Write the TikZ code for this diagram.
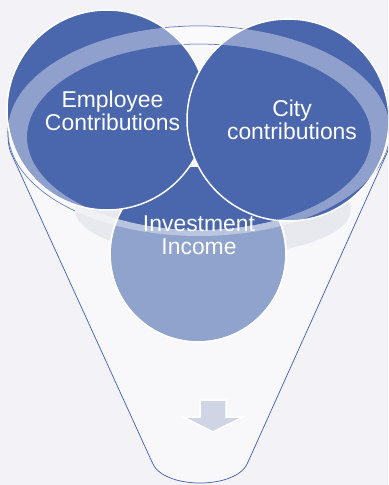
\documentclass[tikz,border=0pt]{standalone}
\usepackage{fontspec}
\setmainfont{Liberation Sans}
\definecolor{bgcol}{HTML}{F2F2F7}
\definecolor{funnelcol}{HTML}{F8F8FB}
\definecolor{shadowcol}{HTML}{E8E9EF}
\definecolor{darkblue}{HTML}{4A66AC}
\definecolor{lightblue}{HTML}{8FA3CC}
\definecolor{arrowcol}{HTML}{D0D5E6}
\tikzset{
  bubble/.style={draw=white, line width=1.5bp},
  bubbletext/.style={text=white, align=center, inner sep=0pt, font=\fontsize{23}{23.3}\selectfont},
  rim/.style={x radius=191, y radius=105},
  hole/.style={x radius=172, y radius=93}
}
\begin{document}
\begin{tikzpicture}[x=1bp,y=-1bp]  %funnel
    \useasboundingbox (0,0) rectangle (388,485);
    \fill[bgcol] (0,0) rectangle (388,485);
    \clip (0,0) rectangle (388,485);
    % funnel body
    \fill[funnelcol] (199,131) ellipse [rim];
    \fill[funnelcol] (8,131) .. controls (8,143) and (9,148) .. (11,153) -- (152,462)
        .. controls (162,490) and (238,490) .. (248,462) -- (387,153)
        .. controls (389,148) and (390,143) .. (390,131) -- cycle;
    \draw[darkblue, line width=0.75bp] (8,131) .. controls (8,143) and (9,148) .. (11,153) -- (152,462)
        .. controls (162,490) and (238,490) .. (248,462) -- (387,153)
        .. controls (389,148) and (390,143) .. (390,131);
    \draw[darkblue, line width=0.75bp] (199,131) ellipse [rim];
    \draw[darkblue, line width=0.75bp] (199,137) ellipse [hole];
    \fill[shadowcol] (213,210) ellipse [x radius=138, y radius=46];
    % bubbles
    \filldraw[fill=lightblue, bubble] (198,254) circle (88);
    \begin{scope}
        \clip (199,137) ellipse [hole];
        \fill[darkblue] (198,254) circle (88);
    \end{scope}
    \draw[bubble] (198,254) circle (88);
    \filldraw[fill=darkblue, bubble] (107,110) circle (100);
    \filldraw[fill=darkblue, bubble] (288,120) circle (101);
    % rim over the bubbles
    \fill[white, opacity=0.38, even odd rule] (199,131) ellipse [rim] (199,137) ellipse [hole];
    \node[bubbletext] (employee) at (112.5,110.5) {Employee\\Contributions};
    \node[bubbletext] (city) at (292,120) {City\\contributions};
    \node[bubbletext] (investment) at (199,235.5) {Investment\\Income};
    % arrow
    \filldraw[fill=arrowcol, draw=white, line width=1.5bp] (200,400) -- (226,400) -- (226,417)
        -- (243,417) -- (213,432) -- (183,417) -- (200,417) -- cycle;
\end{tikzpicture}
\end{document}
